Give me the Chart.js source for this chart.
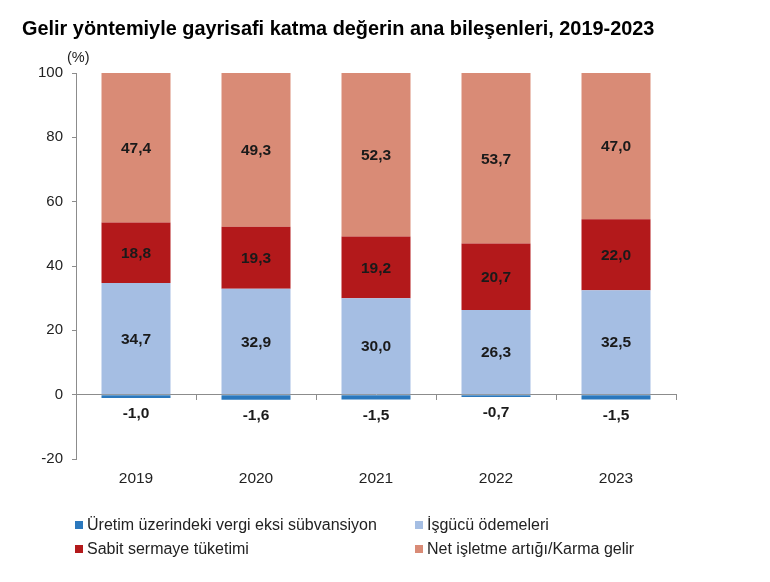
<!DOCTYPE html>
<html>
<head>
<meta charset="utf-8">
<script src="https://cdn.jsdelivr.net/npm/chart.js@4.4.1/dist/chart.umd.min.js"></script>
<style>
    body { margin: 0; background: #fff; font-family: "Liberation Sans", Arial, sans-serif; }
    #wrap { position: relative; width: 770px; height: 582px; }
    #title { position: absolute; left: 22px; top: 17px; font-size: 19.9px; font-weight: bold; color: #000; white-space: nowrap; }
    #unit { position: absolute; left: 67px; top: 49px; font-size: 14.5px; color: #222; }
    .leg { position: absolute; font-size: 16px; color: #222; white-space: nowrap; }
    .leg span { display: inline-block; width: 8px; height: 8px; margin-right: 4px; vertical-align: 1px; }
</style>
</head>
<body>
<div id="wrap">
    <canvas id="myChart" width="770" height="582"></canvas>
    <div id="title">Gelir yöntemiyle gayrisafi katma değerin ana bileşenleri, 2019-2023</div>
    <div id="unit">(%)</div>
    <div id="legend"></div>
</div>
<script>
const yillar = ['2019', '2020', '2021', '2022', '2023']

const seriIsimleri = [
    'Üretim üzerindeki vergi eksi sübvansiyon',
    'İşgücü ödemeleri',
    'Sabit sermaye tüketimi',
    'Net işletme artığı/Karma gelir'
]
const renkler = ['#2b78bd', '#a5bee3', '#b3191b', '#d98b76']

const vergi = [-1.0, -1.6, -1.5, -0.7, -1.5]
const isgucu = [34.7, 32.9, 30.0, 26.3, 32.5]
const sermaye = [18.8, 19.3, 19.2, 20.7, 22.0]
const netIsletme = [47.4, 49.3, 52.3, 53.7, 47.0]

const seriler = [vergi, isgucu, sermaye, netIsletme]

const FONT = '"Liberation Sans", Arial, sans-serif'

// legend in two columns, under the chart
const legendPoz = [[75, 516], [415, 516], [75, 540], [415, 540]]
seriIsimleri.forEach((ime, i) => {
    const d = document.createElement('div')
    d.className = 'leg'
    d.style.left = legendPoz[i][0] + 'px'
    d.style.top = legendPoz[i][1] + 'px'
    d.innerHTML = `<span style="background:${renkler[i]}"></span>${ime}`
    document.getElementById('legend').appendChild(d)
})

const fmt = (v) => v.toFixed(1).replace('.', ',')

const etiketler = {
    id: 'etiketler',
    afterDatasetsDraw: (chart) => {
        const ctx = chart.ctx
        const area = chart.chartArea
        ctx.save()
        ctx.font = 'bold 15.5px ' + FONT
        ctx.fillStyle = '#1a1a1a'
        ctx.textAlign = 'center'
        ctx.textBaseline = 'middle'
        chart.data.datasets.forEach((ds, di) => {
            const meta = chart.getDatasetMeta(di)
            meta.data.forEach((bar, i) => {
                const v = ds.data[i]
                const {x, y, base} = bar.getProps(['x', 'y', 'base'], true)
                if (v < 0) {
                    ctx.fillText(fmt(v), x, y + 16)
                } else {
                    const ust = Math.max(y, area.top)
                    ctx.fillText(fmt(v), x, (ust + base) / 2 + 1)
                }
            })
        })
        ctx.restore()
    }
}

const ctx = document.getElementById('myChart').getContext('2d')
new Chart(ctx, {
    type: 'bar',
    data: {
        labels: yillar,
        datasets: seriler.map((s, i) => ({
            label: seriIsimleri[i],
            data: s,
            backgroundColor: renkler[i],
            borderWidth: 0,
            barPercentage: 0.575,
            categoryPercentage: 1
        }))
    },
    options: {
        responsive: false,
        animation: false,
        devicePixelRatio: 1,
        layout: { padding: { left: 0, top: 73, right: 94, bottom: 83 } },
        plugins: {
            legend: { display: false },
            tooltip: { enabled: false }
        },
        scales: {
            x: {
                stacked: true,
                grid: { display: false, drawTicks: false },
                border: { display: false },
                ticks: { color: '#222', font: { size: 15.5, family: FONT }, padding: 10 },
                afterFit: (s) => { s.height = 40 }
            },
            x2: {
                type: 'category',
                labels: yillar,
                position: { y: 0 },
                grid: { drawOnChartArea: false, drawTicks: true, tickLength: 5, color: '#8c8c8c', offset: true },
                border: { display: true, color: '#8c8c8c', width: 1 },
                ticks: { display: false },
                afterFit: (s) => { s.height = 0 }
            },
            y: {
                stacked: true,
                min: -20,
                max: 100,
                ticks: { stepSize: 20, color: '#222', font: { size: 15, family: FONT }, padding: 9 },
                grid: { drawOnChartArea: false, drawTicks: true, tickLength: 4, color: '#8c8c8c' },
                border: { display: true, color: '#8c8c8c', width: 1 },
                afterFit: (s) => { s.width = 76 }
            }
        }
    },
    plugins: [etiketler]
})
</script>
</body>
</html>
